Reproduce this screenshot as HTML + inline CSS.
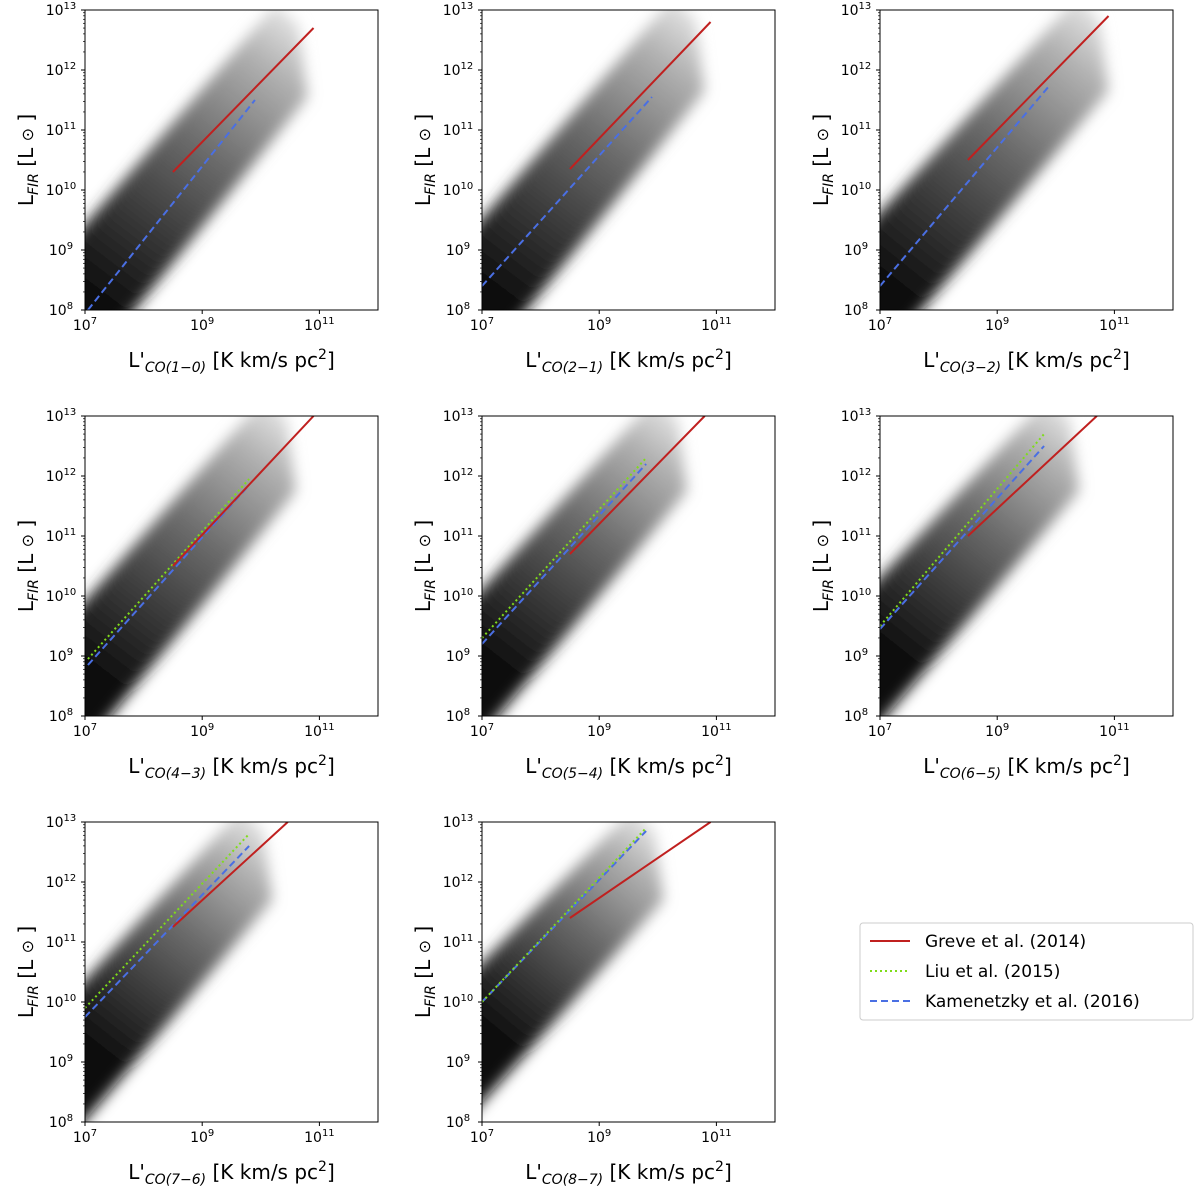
<!DOCTYPE html>
<html><head><meta charset="utf-8">
<style>
body{margin:0;background:#fff;}
svg{display:block;font-family:"DejaVu Sans","Liberation Sans",sans-serif;}
</style></head>
<body>
<svg id="fig" width="1200" height="1190" viewBox="0 0 1200 1190" xmlns="http://www.w3.org/2000/svg">
<defs>
<filter id="blur" x="-20%" y="-20%" width="140%" height="140%"><feGaussianBlur stdDeviation="7"/></filter>
</defs>
</svg>
<script>
const transitions = ["1-0","2-1","3-2","4-3","5-4","6-5","7-6","8-7"];
const xTicks = [7,9,11];
const yTicks = [8,9,10,11,12,13];
// lines as [logx0, logy0, logx1, logy1]; null = absent
const greve = [[8.5,10.3,10.9,12.7],[8.5,10.35,10.9,12.8],[8.5,10.5,10.9,12.9],[8.5,10.5,10.9,13.0],[8.5,10.7,10.8,13.0],[8.5,11.0,10.7,13.0],[8.5,11.25,10.46,13.0],[8.5,11.4,10.9,13.0]];
const liu = [null,null,null,[7.05,8.95,9.8,11.95],[7.0,9.3,9.8,12.3],[7.0,9.5,9.8,12.7],[7.0,9.9,9.8,12.8],[7.0,10.0,9.8,12.9]];
const kamen = [[7.05,8.0,9.9,11.5],[7.0,8.4,9.9,11.55],[7.0,8.4,9.9,11.75],[7.05,8.85,9.8,11.85],[7.0,9.2,9.8,12.2],[7.0,9.45,9.8,12.5],[7.0,9.75,9.8,12.6],[7.0,10.0,9.8,12.85]];
// density cloud: centre line [x0,y0,x1,y1] and half width (dex in y)
const cloudLine = [[7.0,8.3,10.5,12.8],[7.0,8.4,10.5,12.9],[7.0,8.5,10.6,12.9],[7.0,8.8,10.3,13.0],[7.0,9.0,10.2,13.0],[7.0,9.2,10.1,13.0],[7.0,9.3,9.9,12.9],[7.0,9.6,9.8,12.9]];
const cloudWidth = [1.25,1.25,1.25,1.25,1.25,1.25,1.2,1.2];

const NS="http://www.w3.org/2000/svg";
const svg=document.getElementById('fig');
const colX=[85,482,880], rowY=[10,416,822], W=293, H=300;
function mk(t,a,p){const e=document.createElementNS(NS,t);for(const k in a)e.setAttribute(k,a[k]);(p||svg).appendChild(e);return e;}
transitions.forEach((tr,i)=>{
  const x0=colX[i%3], y0=rowY[Math.floor(i/3)];
  const sx=v=>x0+(v-7)/5*W, sy=v=>y0+H-(v-8)/5*H;
  const g=mk('g',{});
  
  
  const cid='clip'+i;
  const cp=mk('clipPath',{id:cid},g);mk('rect',{x:x0,y:y0,width:W,height:H},cp);
  const gradId='grad'+i;
  const c=cloudLine[i], w=cloudWidth[i];
  const lg=mk('linearGradient',{id:gradId,gradientUnits:'userSpaceOnUse',x1:sx(c[0]),y1:sy(c[1]),x2:sx(c[2]),y2:sy(c[3])},g);
  mk('stop',{offset:'0','stop-color':'#0c0c0c'},lg);mk('stop',{offset:'0.25','stop-color':'#353535'},lg);
  mk('stop',{offset:'0.55','stop-color':'#6c6c6c'},lg);mk('stop',{offset:'0.85','stop-color':'#b0b0b0'},lg);mk('stop',{offset:'1','stop-color':'#dedede'},lg);
  const cg=mk('g',{'clip-path':`url(#${cid})`},g);
  const sl=(c[3]-c[1])/(c[2]-c[0]);
  const xs=c[0]-0.8, ys=c[1]-0.8*sl;
  const pts=[[xs,ys+w],[c[2]-0.25,c[3]+0.3],[c[2]+0.15,c[3]-0.05],[c[2]+0.3,c[3]-w],[xs,ys-w]];
  const cloud=mk('polygon',{points:pts.map(p=>sx(p[0])+','+sy(p[1])).join(' '),fill:`url(#${gradId})`,filter:'url(#blur)'},cg);
  
  
  const lines=[[kamen[i],'#4a6fe3','7,4','kamenetzky-line'],[liu[i],'#7fdc1a','2,3','liu-line'],[greve[i],'#c0201f','','greve-line']];
  lines.forEach(([d,col,da,nm])=>{ if(!d)return;
    const l=mk('line',{x1:sx(d[0]),y1:sy(d[1]),x2:sx(d[2]),y2:sy(d[3]),stroke:col,'stroke-width':2,'stroke-dasharray':da},cg);
    
    
  });
  mk('rect',{x:x0,y:y0,width:W,height:H,fill:'none',stroke:'#000','stroke-width':1},g);
  xTicks.forEach(t=>{const x=sx(t);mk('line',{x1:x,y1:y0+H,x2:x,y2:y0+H+4,stroke:'#000'},g);
    const tx=mk('text',{x:x,y:y0+H+20,'text-anchor':'middle','font-size':14},g);
    
    
    tx.innerHTML=`10<tspan dy="-6" font-size="10">${t}</tspan>`;});
  yTicks.forEach(t=>{const y=sy(t);mk('line',{x1:x0-4,y1:y,x2:x0,y2:y,stroke:'#000'},g);
    if(t<13){for(let m=2;m<10;m++){const ym=sy(t+Math.log10(m));mk('line',{x1:x0-2,y1:ym,x2:x0,y2:ym,stroke:'#000','stroke-width':0.7},g);}}
    const tx=mk('text',{x:x0-24,y:y+5,'text-anchor':'middle','font-size':14},g);
    
    
    tx.innerHTML=`10<tspan dy="-6" font-size="10">${t}</tspan>`;});
  const xl=mk('text',{x:x0+W/2,y:y0+H+57,'text-anchor':'middle','font-size':20},g);
  
  
  xl.innerHTML=`L'<tspan dy="5" font-size="14" font-style="italic">CO(${tr.replace('-','\u2212')})</tspan><tspan dy="-5"> [K km/s pc</tspan><tspan dy="-8" font-size="14">2</tspan><tspan dy="8">]</tspan>`;
  const yl=mk('text',{x:0,y:0,'text-anchor':'middle','font-size':20,transform:`translate(${x0-52},${y0+H/2}) rotate(-90)`},g);
  
  
  yl.innerHTML=`L<tspan dy="5" font-size="14" font-style="italic">FIR</tspan><tspan dy="-5"> [L </tspan><tspan font-size="16">\u2299</tspan><tspan> ]</tspan>`;
});
// legend
const lgG=mk('g',{});


mk('rect',{x:860,y:923,width:333,height:97,rx:3,fill:'#fff',stroke:'#ccc'},lgG);
const legendNames=["Greve et al. (2014)","Liu et al. (2015)","Kamenetzky et al. (2016)"];
const legendCols=['#c0201f','#7fdc1a','#4a6fe3'], legendDash=['','2,3','7,4'];
legendNames.forEach((n,k)=>{const y=941+k*30;
  const e=mk('g',{},lgG);
  
  
  mk('line',{x1:870,y1:y,x2:910,y2:y,stroke:legendCols[k],'stroke-width':2,'stroke-dasharray':legendDash[k]},e);
  const t=mk('text',{x:925,y:y+6,'font-size':17},e);t.textContent=n;});
</script>
</body></html>
